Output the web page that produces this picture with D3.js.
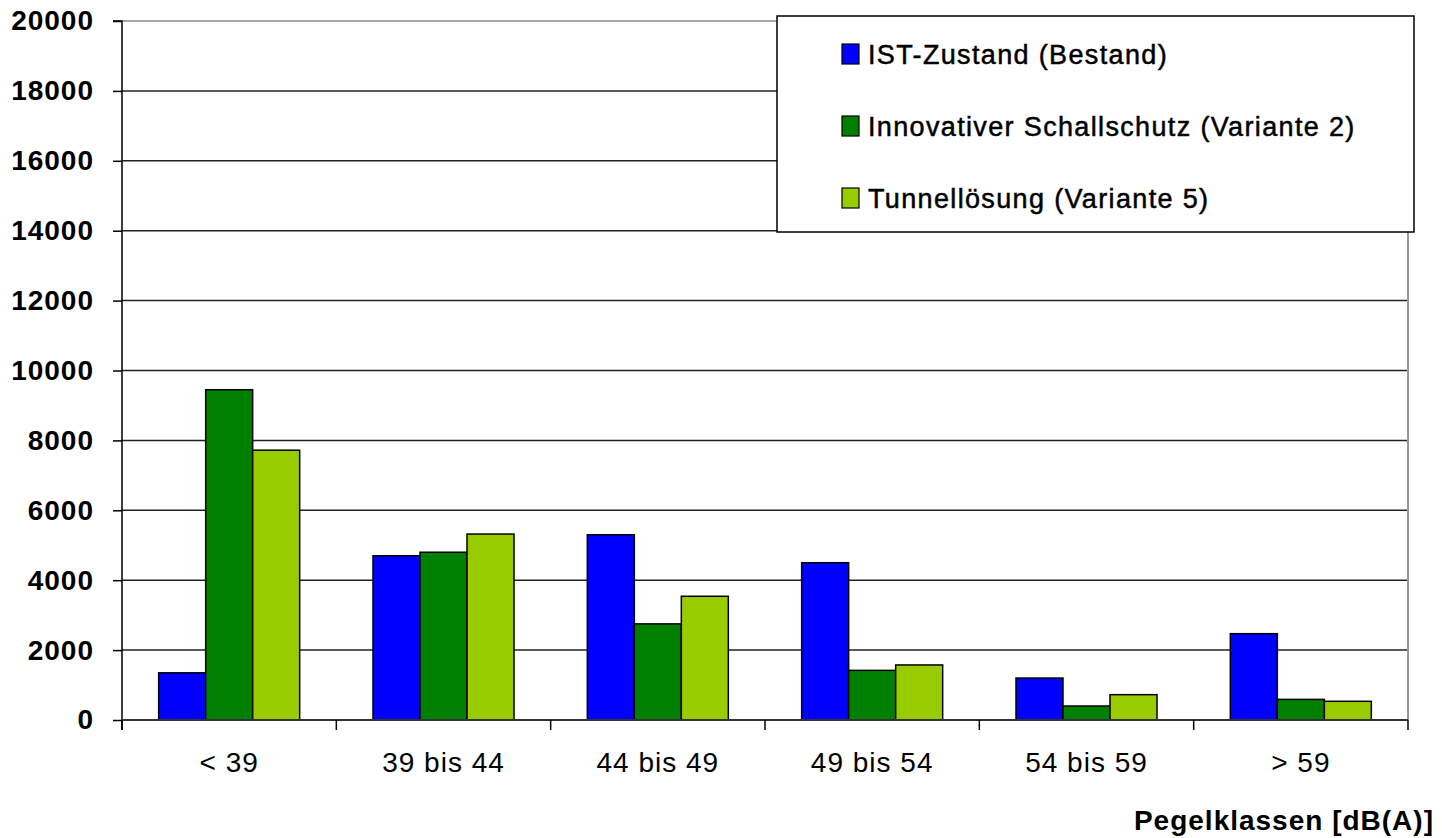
<!DOCTYPE html>
<html>
<head>
<meta charset="utf-8">
<script src="https://cdn.jsdelivr.net/npm/d3@7"></script>
<style>
  html, body { margin: 0; padding: 0; background: #fff; }
  svg { display: block; font-family: "Liberation Sans", Arial, sans-serif; }
</style>
</head>
<body>
<svg id="chart" width="1442" height="838"></svg>
<script>
// Pegelklassen and counts per scenario
const categories = ["< 39", "39 bis 44", "44 bis 49", "49 bis 54", "54 bis 59", "> 59"];
const seriesNames = ["IST-Zustand (Bestand)", "Innovativer Schallschutz (Variante 2)", "Tunnellösung (Variante 5)"];
const istZustand = [1350, 4700, 5300, 4500, 1200, 2470];
const innovativ = [9450, 4800, 2750, 1420, 400, 590];
const tunnel = [7720, 5320, 3540, 1575, 725, 535];
const yTicks = [0, 2000, 4000, 6000, 8000, 10000, 12000, 14000, 16000, 18000, 20000];
const colors = ["#0000ff", "#008000", "#99cc00"];

const series = [istZustand, innovativ, tunnel];

const svg = d3.select("#chart");
const plotLeft = 122, plotRight = 1408, plotTop = 21, plotBottom = 720;

const x = d3.scaleBand().domain(categories).range([plotLeft, plotRight]).paddingInner(0).paddingOuter(0);
const y = d3.scaleLinear().domain([0, 20000]).range([plotBottom, plotTop]);

const xs = d3.scaleBand().domain(d3.range(series.length))
  .range([0, x.bandwidth()]).paddingOuter(0.78).paddingInner(0);

// Horizontal gridlines
svg.append("g").selectAll("line").data(yTicks.filter(d => d > 0)).join("line")
  .attr("x1", plotLeft).attr("x2", plotRight)
  .attr("y1", d => y(d)).attr("y2", d => y(d))
  .attr("stroke", d => d === 20000 ? "#888" : "#222").attr("stroke-width", 1.5);

// Right plot border
svg.append("line").attr("x1", plotRight).attr("x2", plotRight).attr("y1", plotTop).attr("y2", plotBottom)
  .attr("stroke", "#999").attr("stroke-width", 2);

// Bars
const groups = svg.append("g").selectAll("g").data(categories).join("g")
  .attr("transform", d => `translate(${x(d)},0)`);
groups.selectAll("rect").data((d, i) => series.map((s, k) => ({ k, v: s[i] }))).join("rect")
  .attr("x", d => xs(d.k))
  .attr("width", xs.bandwidth())
  .attr("y", d => y(d.v))
  .attr("height", d => plotBottom - y(d.v))
  .attr("fill", d => colors[d.k])
  .attr("stroke", "#000").attr("stroke-width", 1.5);

// Y axis
const yAxis = d3.axisLeft(y).tickValues(yTicks).tickSize(9).tickPadding(19).tickFormat(d3.format("d"));
const yg = svg.append("g").attr("transform", `translate(${plotLeft},0)`).call(yAxis);
yg.select(".domain").attr("stroke", "#000").attr("stroke-width", 1.5)
  .attr("d", `M-9,${plotTop}H0V${plotBottom + 10}`);
yg.selectAll(".tick line").attr("stroke", "#000").attr("stroke-width", 1.5);
yg.selectAll(".tick text").attr("font-size", 28).attr("font-weight", "bold")
  .attr("letter-spacing", 1)
  .attr("fill", "#000").attr("font-family", "Liberation Sans, Arial, sans-serif");

// X axis
const xAxis = d3.axisBottom(x).tickSize(0).tickPadding(32);
const xg = svg.append("g").attr("transform", `translate(0,${plotBottom})`).call(xAxis);
xg.select(".domain").attr("stroke", "#333").attr("stroke-width", 2).attr("d", `M${plotLeft},0H${plotRight}`);
xg.selectAll(".tick text").attr("font-size", 28).attr("fill", "#000")
  .attr("letter-spacing", 1)
  .attr("font-family", "Liberation Sans, Arial, sans-serif");
xg.append("g").selectAll("line").data(categories.map(c => x(c)).concat([plotRight])).join("line")
  .attr("x1", d => d).attr("x2", d => d).attr("y1", 0).attr("y2", 10)
  .attr("stroke", "#000").attr("stroke-width", 1.5);

// Axis title
svg.append("text").attr("x", 1434).attr("y", 830).attr("text-anchor", "end")
  .attr("font-size", 28).attr("font-weight", "bold").attr("fill", "#000")
  .attr("letter-spacing", 1)
  .text("Pegelklassen [dB(A)]");

// Legend
const lg = svg.append("g");
lg.append("rect").attr("x", 777).attr("y", 16).attr("width", 637).attr("height", 216)
  .attr("fill", "#fff").attr("stroke", "#000").attr("stroke-width", 1.5);
const rows = lg.selectAll("g.item").data(seriesNames).join("g").attr("class", "item")
  .attr("transform", (d, i) => `translate(842,${54 + i * 72})`);
rows.append("rect").attr("x", 0).attr("y", -10).attr("width", 17).attr("height", 20)
  .attr("fill", (d, i) => colors[i]).attr("stroke", "#000").attr("stroke-width", 1.2);
rows.append("text").attr("x", 26).attr("y", 10).attr("font-size", 27)
  .attr("letter-spacing", 1.35).attr("fill", "#000")
  .attr("stroke", "#000").attr("stroke-width", 0.5)
  .text(d => d);
</script>
</body>
</html>
